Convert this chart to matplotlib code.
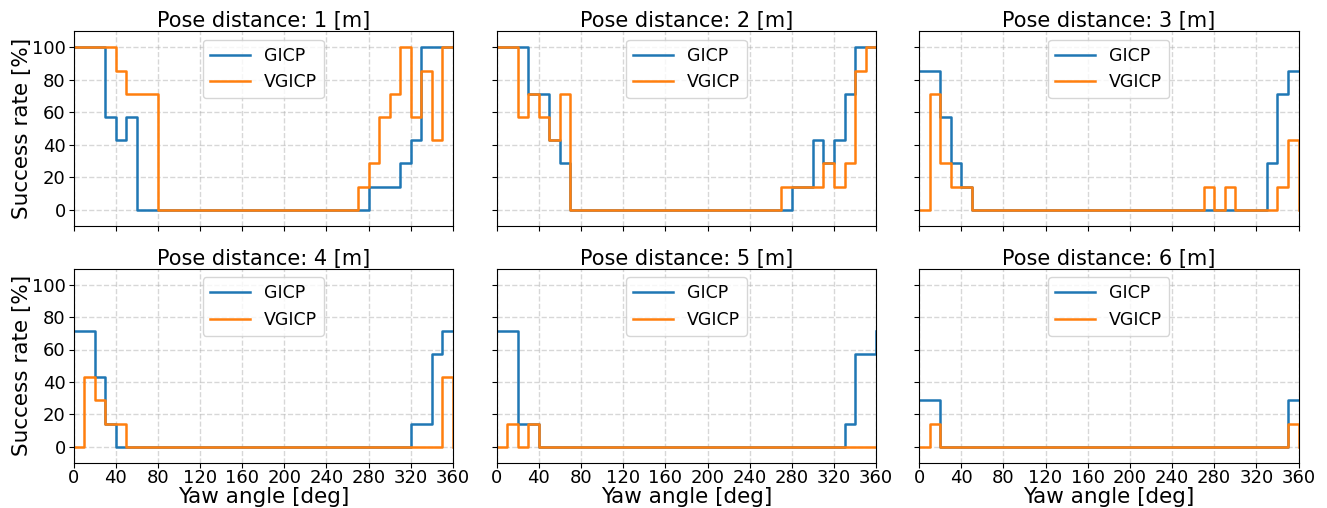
import matplotlib
matplotlib.use("Agg")
import matplotlib.pyplot as plt

yaw = [0, 10, 20, 30, 40, 50, 60, 70, 80, 90, 100, 110, 120, 130, 140, 150, 160, 170,
       180, 190, 200, 210, 220, 230, 240, 250, 260, 270, 280, 290, 300, 310, 320, 330,
       340, 350, 360]

gicp_1 = [100, 100, 100, 57.1, 42.9, 57.1, 0, 0, 0, 0, 0, 0, 0, 0, 0, 0, 0, 0,
          0, 0, 0, 0, 0, 0, 0, 0, 0, 0, 14.3, 14.3, 14.3, 28.6, 42.9, 100,
          100, 100, 100]
vgicp_1 = [100, 100, 100, 100, 85.7, 71.4, 71.4, 71.4, 0, 0, 0, 0, 0, 0, 0, 0, 0, 0,
           0, 0, 0, 0, 0, 0, 0, 0, 0, 14.3, 28.6, 57.1, 71.4, 100, 57.1, 85.7,
           42.9, 100, 100]

gicp_2 = [100, 100, 100, 71.4, 71.4, 42.9, 28.6, 0, 0, 0, 0, 0, 0, 0, 0, 0, 0, 0,
          0, 0, 0, 0, 0, 0, 0, 0, 0, 0, 14.3, 14.3, 42.9, 28.6, 42.9, 71.4,
          100, 100, 100]
vgicp_2 = [100, 100, 57.1, 71.4, 57.1, 42.9, 71.4, 0, 0, 0, 0, 0, 0, 0, 0, 0, 0, 0,
           0, 0, 0, 0, 0, 0, 0, 0, 0, 14.3, 14.3, 14.3, 14.3, 28.6, 14.3, 28.6,
           85.7, 100, 100]

gicp_3 = [85.7, 85.7, 57.1, 28.6, 14.3, 0, 0, 0, 0, 0, 0, 0, 0, 0, 0, 0, 0, 0,
          0, 0, 0, 0, 0, 0, 0, 0, 0, 0, 0, 0, 0, 0, 0, 28.6,
          71.4, 85.7, 85.7]
vgicp_3 = [0, 71.4, 28.6, 14.3, 14.3, 0, 0, 0, 0, 0, 0, 0, 0, 0, 0, 0, 0, 0,
           0, 0, 0, 0, 0, 0, 0, 0, 0, 14.3, 0, 14.3, 0, 0, 0, 0,
           14.3, 42.9, 0]

gicp_4 = [71.4, 71.4, 42.9, 14.3, 0, 0, 0, 0, 0, 0, 0, 0, 0, 0, 0, 0, 0, 0,
          0, 0, 0, 0, 0, 0, 0, 0, 0, 0, 0, 0, 0, 0, 14.3, 14.3,
          57.1, 71.4, 71.4]
vgicp_4 = [0, 42.9, 28.6, 14.3, 14.3, 0, 0, 0, 0, 0, 0, 0, 0, 0, 0, 0, 0, 0,
           0, 0, 0, 0, 0, 0, 0, 0, 0, 0, 0, 0, 0, 0, 0, 0,
           0, 42.9, 0]

gicp_5 = [71.4, 71.4, 14.3, 14.3, 0, 0, 0, 0, 0, 0, 0, 0, 0, 0, 0, 0, 0, 0,
          0, 0, 0, 0, 0, 0, 0, 0, 0, 0, 0, 0, 0, 0, 0, 14.3,
          57.1, 57.1, 71.4]
vgicp_5 = [0, 14.3, 0, 14.3, 0, 0, 0, 0, 0, 0, 0, 0, 0, 0, 0, 0, 0, 0,
           0, 0, 0, 0, 0, 0, 0, 0, 0, 0, 0, 0, 0, 0, 0, 0,
           0, 0, 0]

gicp_6 = [28.6, 28.6, 0, 0, 0, 0, 0, 0, 0, 0, 0, 0, 0, 0, 0, 0, 0, 0,
          0, 0, 0, 0, 0, 0, 0, 0, 0, 0, 0, 0, 0, 0, 0, 0,
          0, 28.6, 28.6]
vgicp_6 = [0, 14.3, 0, 0, 0, 0, 0, 0, 0, 0, 0, 0, 0, 0, 0, 0, 0, 0,
           0, 0, 0, 0, 0, 0, 0, 0, 0, 0, 0, 0, 0, 0, 0, 0,
           0, 14.3, 0]

distances = [1, 2, 3, 4, 5, 6]
gicp_all = [gicp_1, gicp_2, gicp_3, gicp_4, gicp_5, gicp_6]
vgicp_all = [vgicp_1, vgicp_2, vgicp_3, vgicp_4, vgicp_5, vgicp_6]
x_ticks = [0, 40, 80, 120, 160, 200, 240, 280, 320, 360]
y_ticks = [0, 20, 40, 60, 80, 100]

fig, axes = plt.subplots(2, 3, figsize=(13.27, 5.08), dpi=100, sharex=True, sharey=True)

W = 1327.0
H = 508.0
lefts = [73.5, 496.7, 919.0]
width = 379.5
rows = [(31.0, 226.3), (268.5, 462.9)]

for i, ax in enumerate(axes.flat):
    r, c = divmod(i, 3)
    top, bot = rows[r]
    ax.set_position([lefts[c] / W, 1 - bot / H, width / W, (bot - top) / H])
    ax.step(yaw, gicp_all[i], where='post', color='tab:blue', lw=1.8, label='GICP')
    ax.step(yaw, vgicp_all[i], where='post', color='tab:orange', lw=1.8, label='VGICP')
    ax.set_xlim(0, 360)
    ax.set_ylim(-10, 110)
    ax.set_xticks(x_ticks)
    ax.set_yticks(y_ticks)
    ax.grid(True, linestyle='--', color='#b0b0b0', alpha=0.5, lw=1.0)
    ax.tick_params(axis='x', labelsize=13, length=3.5, pad=1)
    ax.tick_params(axis='y', labelsize=13, length=3.5, pad=2)
    ax.set_title(f'Pose distance: {distances[i]} [m]', fontsize=15, pad=2)
    ax.legend(loc='upper center', fontsize=12.5, handlelength=2.3, handletextpad=0.8)
    if c == 0:
        ax.set_ylabel('Success rate [%]', fontsize=15.5, labelpad=0)
    if r == 1:
        ax.set_xlabel('Yaw angle [deg]', fontsize=15.5, labelpad=0)

fig.savefig('out.png', dpi=100)
